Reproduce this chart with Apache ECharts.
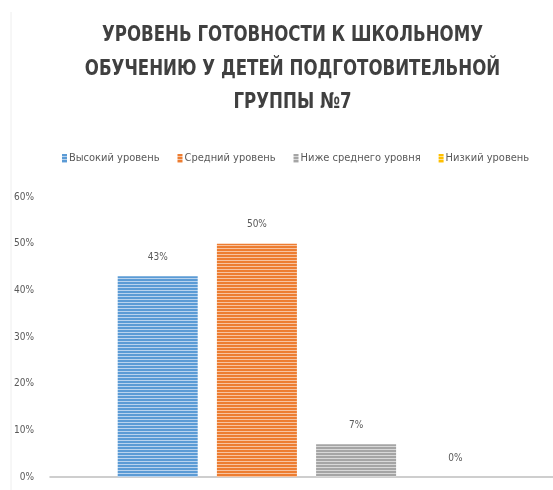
<!DOCTYPE html>
<html>
<head>
<meta charset="utf-8">
<script src="https://cdn.jsdelivr.net/npm/echarts@6/dist/echarts.min.js"></script>
<style>html,body{margin:0;padding:0;background:#fff;}#c{width:553px;height:490px;}</style>
</head>
<body>
<div id="c"></div>
<script>
var titleText = 'УРОВЕНЬ ГОТОВНОСТИ К ШКОЛЬНОМУ\nОБУЧЕНИЮ У ДЕТЕЙ ПОДГОТОВИТЕЛЬНОЙ\nГРУППЫ №7';
var categories = [''];
var seriesNames = ['Высокий уровень', 'Средний уровень', 'Ниже среднего уровня', 'Низкий уровень'];
var seriesValues = [43, 50, 7, 0];
var seriesColors = ['#5B9BD5', '#ED7D31', '#A5A5A5', '#FFC000'];
var stripeColors = ['#B9D3EE', '#F7C3A0', '#D8D8D8', '#FFE08A'];
var yTicks = [0, 10, 20, 30, 40, 50, 60];

function stripe(base, light) {
  var cv = document.createElement('canvas');
  cv.width = 4; cv.height = 3;
  var ctx = cv.getContext('2d');
  ctx.fillStyle = base; ctx.fillRect(0, 0, 4, 3);
  ctx.fillStyle = light; ctx.fillRect(0, 2, 4, 1);
  return { image: cv, repeat: 'repeat' };
}

var font = '"Liberation Sans Narrow", "DejaVu Sans Condensed", sans-serif';
var chart = echarts.init(document.getElementById('c'));
var series = seriesNames.map(function (n, i) {
  return {
    name: n,
    type: 'bar',
    data: [seriesValues[i]],
    barWidth: 80,
    barGap: '24%',
    itemStyle: { color: stripe(seriesColors[i], stripeColors[i]) },
    label: {
      show: true, position: 'top', distance: 14,
      formatter: '{c}%', color: '#595959', fontSize: 10, fontFamily: font
    }
  };
});
chart.setOption({
  animation: false,
  legend: {
    top: 148, left: 57, itemWidth: 5, itemHeight: 9, itemGap: 18,
    icon: 'rect',
    textStyle: { fontFamily: font, fontSize: 11, color: '#595959', padding: [0, 0, 0, -3] },
    data: seriesNames
  },
  grid: { left: 50, width: 513, top: 197, bottom: 13, outerBoundsMode: 'none', containLabel: false },
  xAxis: {
    type: 'category', data: categories,
    axisLine: { lineStyle: { color: '#BFBFBF', width: 1.5 } },
    axisTick: { show: false }, axisLabel: { show: false }
  },
  yAxis: {
    type: 'value', min: yTicks[0], max: yTicks[yTicks.length - 1], interval: 10,
    splitLine: { show: false },
    axisLine: { show: false }, axisTick: { show: false },
    axisLabel: { formatter: '{value}%', color: '#595959', fontSize: 10, fontFamily: font, margin: 16 }
  },
  graphic: [{
    type: 'line', shape: { x1: 11, y1: 12, x2: 11, y2: 490 },
    style: { stroke: '#EEEEEE', lineWidth: 1 }
  }, {
    type: 'text', x: 292.5, y: 19, scaleX: 0.84, originX: 0,
    style: {
      text: titleText, textAlign: 'center', textVerticalAlign: 'top',
      font: 'bold 22px ' + font, lineHeight: 33.5, fill: '#404040'
    }
  }],
  series: series
});
</script>
</body>
</html>
